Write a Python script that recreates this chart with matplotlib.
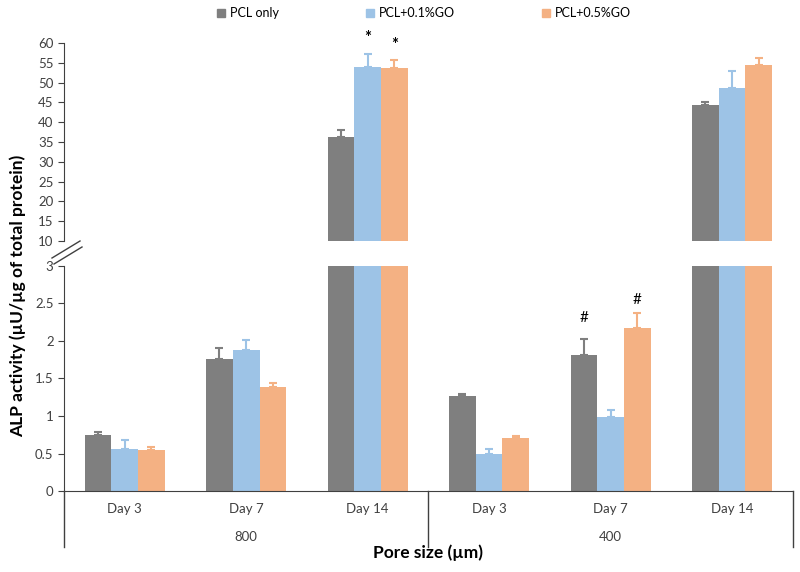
import numpy as np
import matplotlib
matplotlib.use("Agg")
import matplotlib.pyplot as plt
from matplotlib.lines import Line2D
from matplotlib.patches import Patch

plt.rcParams['font.family'] = ['Lato', 'DejaVu Sans']

# datos
dias = ["Day 3", "Day 7", "Day 14", "Day 3", "Day 7", "Day 14"]
poros = ["800", "400"]
series = ["PCL only", "PCL+0.1%GO", "PCL+0.5%GO"]
pcl = [0.75, 1.765, 36.3, 1.26, 1.81, 44.3]
pcl_err = [0.03, 0.145, 1.7, 0.03, 0.21, 0.8]
go01 = [0.56, 1.875, 53.9, 0.50, 0.99, 48.6]
go01_err = [0.125, 0.135, 3.2, 0.055, 0.085, 4.3]
go05 = [0.55, 1.39, 53.6, 0.71, 2.17, 54.5]
go05_err = [0.04, 0.05, 2.0, 0.025, 0.20, 1.6]

colores = ["#7f7f7f", "#9dc3e6", "#f4b183"]
valores = [pcl, go01, go05]
errores = [pcl_err, go01_err, go05_err]

fig = plt.figure(figsize=(8, 5.72), dpi=100)
ax_top = fig.add_axes([0.08, 0.5787, 0.911, 0.3461])
ax_bot = fig.add_axes([0.08, 0.1416, 0.911, 0.3934])

x = np.arange(len(dias))
w = 0.22
for ax in (ax_top, ax_bot):
    for i in range(3):
        ax.bar(x + (i - 1) * w, valores[i], w, color=colores[i], label=series[i], zorder=2)
        ax.errorbar(x + (i - 1) * w, valores[i], yerr=[np.zeros(6), errores[i]],
                    fmt='none', ecolor=colores[i], elinewidth=1.5, capsize=3, capthick=1.5, zorder=3)
    ax.set_xlim(-0.5, 5.5)
    ax.spines['top'].set_visible(False)
    ax.spines['right'].set_visible(False)
    ax.tick_params(axis='y', labelsize=9.5, length=4, colors='#404040')
    ax.tick_params(axis='x', length=0)
    ax.set_xticks([])
    ax.spines['left'].set_color('#404040')

# eje superior 10-60
ax_top.set_ylim(10, 60)
ax_top.set_yticks(range(10, 61, 5))
ax_top.spines['bottom'].set_visible(False)

# eje inferior 0-3
ax_bot.set_ylim(0, 3)
ax_bot.set_yticks([0, 0.5, 1, 1.5, 2, 2.5, 3])
ax_bot.set_yticklabels(["0", "0.5", "1", "1.5", "2", "2.5", "3"])
ax_bot.spines['bottom'].set_color('#404040')

# etiquetas de dos niveles (fracciones del alto del eje inferior, 225 px)
for xi, d in zip(x, dias):
    ax_bot.text(xi, -0.08, d, transform=ax_bot.get_xaxis_transform(), ha='center', va='center',
                fontsize=9.5, color='#404040')
for k, p in enumerate(poros):
    ax_bot.text(1 + 3 * k, -0.205, p, transform=ax_bot.get_xaxis_transform(), ha='center', va='center',
                fontsize=9.5, color='#404040')
for xs in [-0.5, 2.5, 5.5]:
    ax_bot.add_line(Line2D([xs, xs], [0, -0.25], transform=ax_bot.get_xaxis_transform(),
                           color='#404040', lw=1, clip_on=False))

# marcas de significancia
ax_top.text(x[2], 61.3, "*", ha='center', va='center', fontsize=12, fontweight='bold', clip_on=False)
ax_top.text(x[2] + w, 59.6, "*", ha='center', va='center', fontsize=12, fontweight='bold', clip_on=False)
ax_bot.text(x[4] - w, 2.3, "#", ha='center', va='center', fontsize=11)
ax_bot.text(x[4] + w, 2.55, "#", ha='center', va='center', fontsize=11)

# marcas de corte del eje
fig.add_artist(Line2D([52 / 800, 80 / 800], [1 - 258 / 572, 1 - 241 / 572], color='#404040', lw=1))
fig.add_artist(Line2D([54 / 800, 82 / 800], [1 - 264 / 572, 1 - 247 / 572], color='#404040', lw=1))

fig.text(0.535, 1 - 553 / 572, "Pore size (\u00b5m)", ha='center', va='center', fontsize=12.5, fontweight='bold')
fig.text(0.022, 1 - 296 / 572, "ALP activity (\u00b5U/\u00b5g of total protein)", rotation=90,
         ha='center', va='center', fontsize=12.5, fontweight='bold')

handles = [Patch(color=c) for c in colores]
fig.legend(handles, series, loc='center', bbox_to_anchor=(0.53, 1 - 13 / 572), ncol=3, frameon=False,
           fontsize=9, handlelength=0.6, handleheight=0.6, handletextpad=0.4, columnspacing=7)

fig.savefig("out.png", dpi=100)
